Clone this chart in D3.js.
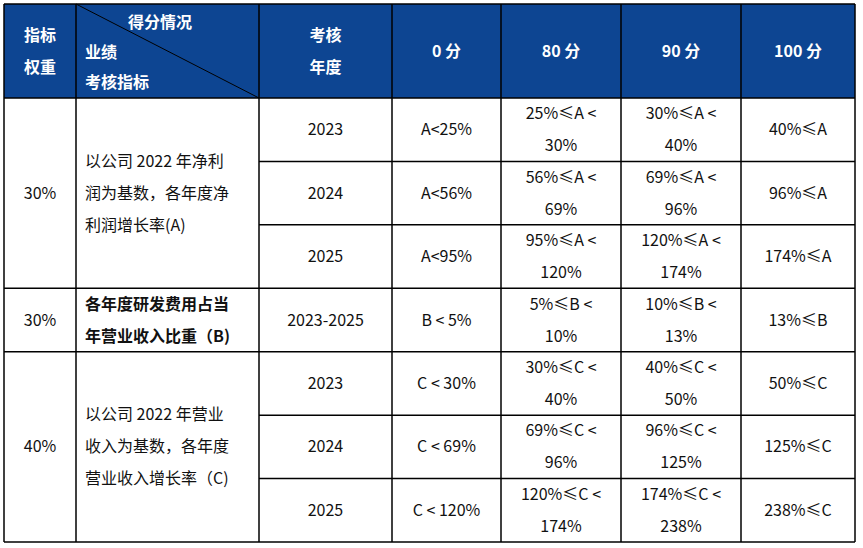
<!DOCTYPE html>
<html><head><meta charset="utf-8">
<script src="https://cdn.jsdelivr.net/npm/d3@7"></script>
<style>body{margin:0;background:#fff}text{font-family:"Noto Sans CJK SC","Noto Sans",sans-serif}</style>
</head><body><svg id="c" width="863" height="548"></svg>
<script>
const headerScores = ["0 分","80 分","90 分","100 分"];
const weights = ["30%","30%","40%"];
const indicators = [
  ["以公司 2022 年净利","润为基数，各年度净","利润增长率(A)"],
  ["各年度研发费用占当","年营业收入比重（B)"],
  ["以公司 2022 年营业","收入为基数，各年度","营业收入增长率（C)"]
];
const groupSizes = [3,1,3];
const years = ["2023","2024","2025","2023-2025","2023","2024","2025"];
const score0 = ["A<25%","A<56%","A<95%","B < 5%","C < 30%","C < 69%","C < 120%"];
const score80 = [["25%≤A <","30%"],["56%≤A <","69%"],["95%≤A <","120%"],["5%≤B <","10%"],["30%≤C <","40%"],["69%≤C <","96%"],["120%≤C <","174%"]];
const score90 = [["30%≤A <","40%"],["69%≤A <","96%"],["120%≤A <","174%"],["10%≤B <","13%"],["40%≤C <","50%"],["96%≤C <","125%"],["174%≤C <","238%"]];
const score100 = ["40%≤A","96%≤A","174%≤A","13%≤B","50%≤C","125%≤C","238%≤C"];

const colEdges = [4,76,259,392,501,621,741,855];
const x = i => colEdges[i];
const y = d3.scaleLinear().domain([0,7]).range([98,542]);
const topY = 4, fs = 16, lh = 32;
const svg = d3.select("#c");
const blue = "#0d4592";

svg.append("rect").attr("x",x(0)).attr("y",topY).attr("width",x(7)-x(0)).attr("height",y(0)-topY).attr("fill",blue);

function txt(lines, cx, cy, anchor, opt={}){
  const n = lines.length;
  lines.forEach((l,k)=>{
    svg.append("text").attr("x",cx).attr("y",cy+(k-(n-1)/2)*lh).attr("dy","0.35em")
      .attr("text-anchor",anchor).attr("font-size",opt.size||fs)
      .attr("font-weight",opt.bold?"bold":"normal").attr("fill",opt.fill||"#111").text(l);
  });
}
const mid = (a,b)=>(a+b)/2;
const W={fill:"#fff",bold:true};
txt(["指标","权重"],mid(x(0),x(1)),mid(topY,y(0)),"middle",W);
txt(["考核","年度"],mid(x(2),x(3)),mid(topY,y(0)),"middle",W);
headerScores.forEach((s,i)=>txt([s],mid(x(3+i),x(4+i)),mid(topY,y(0)),"middle",W));
txt(["得分情况"],160,22,"middle",W);
txt(["业绩"],85,52,"start",W);
txt(["考核指标"],85,82,"start",W);
svg.append("line").attr("x1",x(1)).attr("y1",topY).attr("x2",x(2)).attr("y2",y(0)).attr("stroke","#000").attr("stroke-width",1);

let r=0;
groupSizes.forEach((g,gi)=>{
  const y0=y(r), y1=y(r+g);
  txt([weights[gi]],mid(x(0),x(1)),mid(y0,y1),"middle");
  txt(indicators[gi],85,mid(y0,y1),"start",{bold:gi===1});
  r+=g;
});
years.forEach((v,i)=>{
  const cy=mid(y(i),y(i+1));
  txt([v],mid(x(2),x(3)),cy,"middle");
  txt([score0[i]],mid(x(3),x(4)),cy,"middle");
  txt(score80[i],mid(x(4),x(5)),cy,"middle");
  txt(score90[i],mid(x(5),x(6)),cy,"middle");
  txt([score100[i]],mid(x(6),x(7)),cy,"middle");
});

const L=(x1,y1,x2,y2)=>svg.append("line").attr("x1",x1).attr("y1",y1).attr("x2",x2).attr("y2",y2).attr("stroke","#000").attr("stroke-width",1.5);
L(x(0),topY,x(7),topY);
L(x(0),y(0),x(7),y(0));
d3.range(1,8).forEach(i=>{
  const gb=[3,4,7].includes(i);
  L(gb?x(0):x(2),y(i),x(7),y(i));
});
colEdges.forEach(c=>L(c,topY,c,y(7)));
</script></body></html>
